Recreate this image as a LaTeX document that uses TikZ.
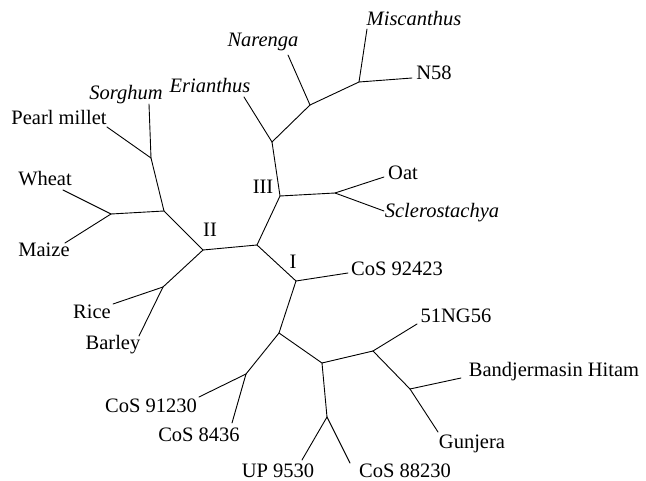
\documentclass[tikz,border=0pt]{standalone}
\usepackage{fontspec}
\setmainfont{Liberation Serif}
\begin{document}
\begin{tikzpicture}[x=1pt,y=-1pt,
  br/.style={line width=0.9pt,line cap=round,line join=round},
  lab/.style={anchor=base,inner sep=0pt,font=\fontsize{20.5}{23}\selectfont},
  ilab/.style={lab,font=\fontsize{20.5}{23}\selectfont\itshape}]
\useasboundingbox (0,0) rectangle (646,481);
% internal nodes
\coordinate (R) at (257,245);
\coordinate (II) at (203,250);
\coordinate (I) at (296,281);
\coordinate (III) at (280,196);
\coordinate (EN) at (272,142);
\coordinate (NM) at (310,105);
\coordinate (MN) at (359,82);
\coordinate (OS) at (335,193);
\coordinate (SW) at (164,211);
\coordinate (SP) at (151,158);
\coordinate (WM) at (111,214);
\coordinate (RB) at (163,287);
\coordinate (Ia) at (279,333);
\coordinate (C9) at (246,374);
\coordinate (Cb) at (322,363);
\coordinate (UC) at (327,417);
\coordinate (BG1) at (373,351);
\coordinate (BG) at (410,389);
% tips
\coordinate (tEri) at (244,97);
\coordinate (tNar) at (288,55);
\coordinate (tMis) at (367,29);
\coordinate (tN58) at (412,78);
\coordinate (tOat) at (384,177);
\coordinate (tScl) at (384,211);
\coordinate (tSor) at (149,104);
\coordinate (tPea) at (107,127);
\coordinate (tWhe) at (63,190);
\coordinate (tMai) at (65,243);
\coordinate (tRic) at (113,304);
\coordinate (tBar) at (139,336);
\coordinate (tC92) at (348,273);
\coordinate (tC91) at (199,397);
\coordinate (tC84) at (232,423);
\coordinate (tUP) at (302,460);
\coordinate (tC88) at (350,463);
\coordinate (t51) at (417,324);
\coordinate (tBH) at (461,378);
\coordinate (tGun) at (438,432);
% branches
\draw[br] (R) -- (II);
\draw[br] (R) -- (I);
\draw[br] (R) -- (III);
\draw[br] (III) -- (EN);
\draw[br] (EN) -- (tEri);
\draw[br] (EN) -- (NM);
\draw[br] (NM) -- (tNar);
\draw[br] (NM) -- (MN);
\draw[br] (MN) -- (tMis);
\draw[br] (MN) -- (tN58);
\draw[br] (III) -- (OS);
\draw[br] (OS) -- (tOat);
\draw[br] (OS) -- (tScl);
\draw[br] (II) -- (SW);
\draw[br] (SW) -- (SP);
\draw[br] (SP) -- (tSor);
\draw[br] (SP) -- (tPea);
\draw[br] (SW) -- (WM);
\draw[br] (WM) -- (tWhe);
\draw[br] (WM) -- (tMai);
\draw[br] (II) -- (RB);
\draw[br] (RB) -- (tRic);
\draw[br] (RB) -- (tBar);
\draw[br] (I) -- (tC92);
\draw[br] (I) -- (Ia);
\draw[br] (Ia) -- (C9);
\draw[br] (C9) -- (tC91);
\draw[br] (C9) -- (tC84);
\draw[br] (Ia) -- (Cb);
\draw[br] (Cb) -- (UC);
\draw[br] (UC) -- (tUP);
\draw[br] (UC) -- (tC88);
\draw[br] (Cb) -- (BG1);
\draw[br] (BG1) -- (t51);
\draw[br] (BG1) -- (BG);
\draw[br] (BG) -- (tBH);
\draw[br] (BG) -- (tGun);
% labels
\node[ilab] (lNar) at (263,47) {Narenga};
\node[ilab] (lEri) at (210,93) {Erianthus};
\node[ilab] (lMis) at (414,26) {Miscanthus};
\node[lab] (lN58) at (434,80) {N58};
\node[lab] (lOat) at (403,180) {Oat};
\node[ilab] (lScl) at (442,218) {Sclerostachya};
\node[ilab] (lSor) at (126,100) {Sorghum};
\node[lab] (lPea) at (59,125) {Pearl millet};
\node[lab] (lWhe) at (45,186) {Wheat};
\node[lab] (lMai) at (44,257) {Maize};
\node[lab] (lRic) at (92,319) {Rice};
\node[lab] (lBar) at (113,350) {Barley};
\node[lab] (lIII) at (263,194) {III};
\node[lab] (lII) at (210,237) {II};
\node[lab] (lI) at (293,269) {I};
\node[lab] (lC92) at (397,276) {CoS 92423};
\node[lab] (lC91) at (151,413) {CoS 91230};
\node[lab] (lC84) at (199,441) {CoS 8436};
\node[lab] (lUP) at (278,477) {UP 9530};
\node[lab] (lC88) at (405,477) {CoS 88230};
\node[lab] (l51) at (456,323) {51NG56};
\node[lab] (lBH) at (554,377) {Bandjermasin Hitam};
\node[lab] (lGun) at (472,448) {Gunjera};
\end{tikzpicture}
\end{document}
